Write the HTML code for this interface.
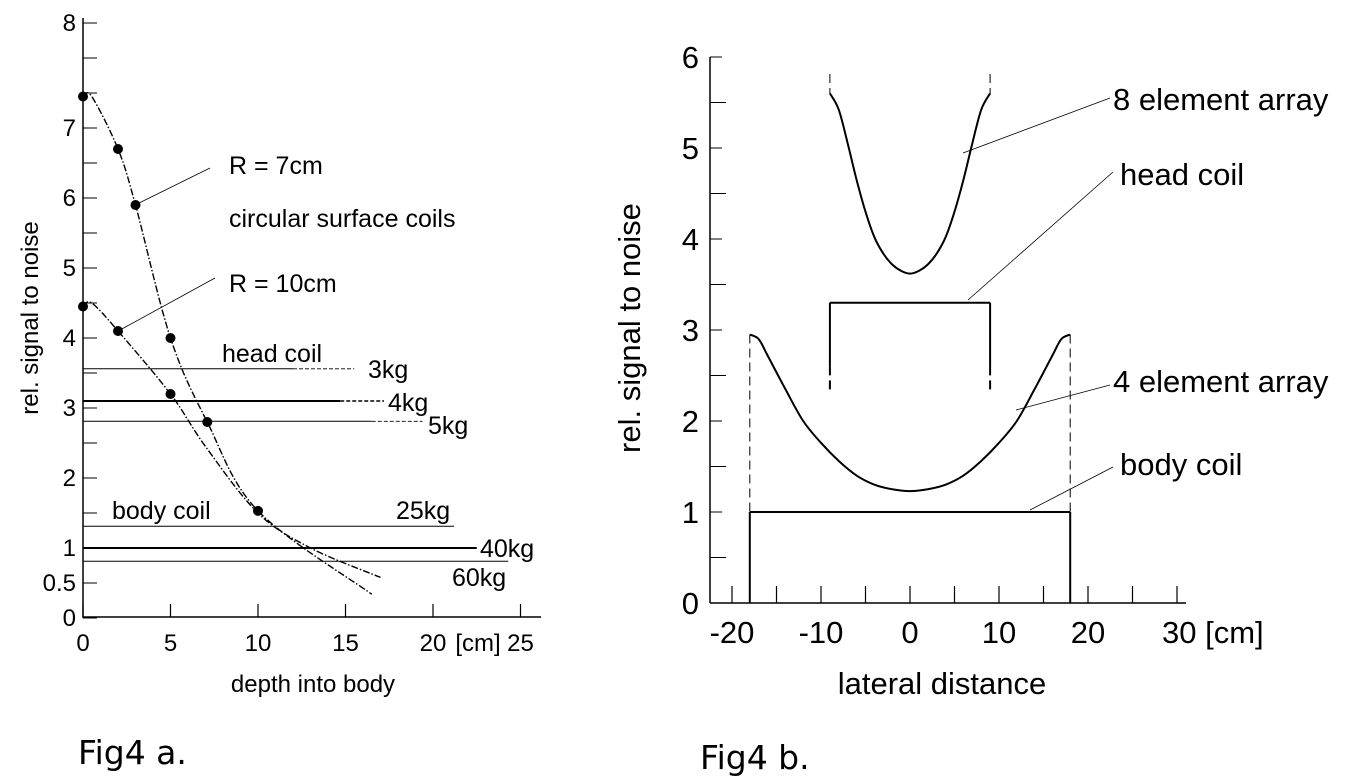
<!DOCTYPE html>
<html><head><meta charset="utf-8"><style>
body{margin:0;background:#fff;}
svg{display:block;font-family:"Liberation Sans",sans-serif;}
</style></head><body>
<svg id="s" width="1363" height="780" viewBox="0 0 1363 780"></svg>
<script>
// ---- Fig 4a data ----
const aXTicks=[0,5,10,15,20,25];
const aYLabels=["0","0.5","1","2","3","4","5","6","7","8"];
const aYLabelVals=[0,0.5,1,2,3,4,5,6,7,8.5];
const r7X=[0,0.5,2,3,5,7.1,10,16.5];
const r7Y=[7.45,7.45,6.7,5.9,4.0,2.8,1.53,0.34];
const r7Dots=[0,2,3,4,5,6];
const r10X=[0,0.5,2,5,7,10,13,17];
const r10Y=[4.45,4.5,4.1,3.2,2.45,1.5,1.0,0.58];
const r10Dots=[0,2,3];
const refLabels=["3kg","4kg","5kg","25kg","40kg","60kg"];
const refVals=[3.56,3.1,2.81,1.31,1.0,0.81];
const refEnds=[15.5,17.2,19.4,21.2,22.5,24.3];
const refSolid=[12,14.7,16.5,21.2,22.5,24.3];
const refThick=[false,true,false,false,true,false];
// ---- Fig 4b data ----
const bXTicks=[-20,-10,0,10,20,30];
const bYTicks=[0,1,2,3,4,5,6];
const e8X=[-9,-8,-7,-6,-5,-4,-3,-2,-1,0,1,2,3,4,5,6,7,8,9];
const e8Y=[5.6,5.42,5.05,4.65,4.3,4.02,3.84,3.72,3.65,3.62,3.65,3.72,3.84,4.02,4.3,4.65,5.05,5.42,5.6];
const e4X=[-18,-17,-16,-14,-12,-10,-8,-6,-4,-2,0,2,4,6,8,10,12,14,16,17,18];
const e4Y=[2.95,2.9,2.72,2.35,2.0,1.76,1.56,1.4,1.3,1.25,1.23,1.25,1.3,1.4,1.56,1.76,2.0,2.35,2.72,2.9,2.95];
const headCoil=[-9,9,3.3];
const bodyCoil=[-18,18,1.0];

const NS="http://www.w3.org/2000/svg",S=document.getElementById('s');
function el(t,a,p){const e=document.createElementNS(NS,t);for(const k in a)e.setAttribute(k,a[k]);(p||S).appendChild(e);return e;}
function txt(x,y,s,size,anchor,extra){const e=el('text',Object.assign({x:x,y:y,'font-size':size,'text-anchor':anchor||'start',fill:'#000'},extra||{}));e.textContent=s;return e;}
function smooth(pts){let d=`M${pts[0][0]},${pts[0][1]}`;for(let i=0;i<pts.length-1;i++){const p0=pts[i-1]||pts[i],p1=pts[i],p2=pts[i+1],p3=pts[i+2]||p2;
d+=` C${p1[0]+(p2[0]-p0[0])/6},${p1[1]+(p2[1]-p0[1])/6} ${p2[0]-(p3[0]-p1[0])/6},${p2[1]-(p3[1]-p1[1])/6} ${p2[0]},${p2[1]}`;}return d;}

// ===== Fig 4a =====
const ax=v=>83+v*17.5, ay=v=>618-v*70;
const ga=el('g',{});
let e=el('line',{x1:83,y1:18,x2:83,y2:618,stroke:'#000','stroke-width':1.5},ga);
e=el('line',{x1:83,y1:617,x2:541,y2:617,stroke:'#000','stroke-width':1.5},ga);
for(let yy=618;yy>=18;yy-=35){el('line',{x1:83,y1:yy,x2:97,y2:yy,stroke:'#000','stroke-width':1},ga);}
aXTicks.forEach(v=>{el('line',{x1:ax(v),y1:617,x2:ax(v),y2:604,stroke:'#000','stroke-width':1.2},ga);
const t=txt(ax(v),651,String(v),24,'middle');ga.appendChild(t);});
aYLabels.forEach((s,i)=>{const t=txt(76,ay(aYLabelVals[i])+8,s,24,'end');ga.appendChild(t);});
txt(478,651,'[cm]',24,'middle');
e=txt(313,692,'depth into body',24,'middle');
e=txt(0,0,'rel. signal to noise',24,'middle',{transform:'translate(38,318) rotate(-90)'});
refLabels.forEach((lab,i)=>{const y=ay(refVals[i]),w=refThick[i]?2:1;
let l=el('line',{x1:83,y1:y,x2:ax(refSolid[i]),y2:y,stroke:'#000','stroke-width':w},ga);
if(refEnds[i]>refSolid[i])el('line',{x1:ax(refSolid[i]),y1:y,x2:ax(refEnds[i]),y2:y,stroke:'#000','stroke-width':w*0.8,'stroke-dasharray':'4,2'},ga);});
[["3kg",368,378],["4kg",388,411],["5kg",428,434],["25kg",396,519],["40kg",480,557],["60kg",452,586]].forEach(a=>{const t=txt(a[1],a[2],a[0],25);});
txt(222,362,'head coil',25);
txt(112,519,'body coil',25);
txt(229,174,'R = 7cm',25);
txt(229,227,'circular surface coils',25);
txt(229,292,'R = 10cm',25);
el('line',{x1:210,y1:168,x2:135,y2:205,stroke:'#000','stroke-width':0.8},ga);
el('line',{x1:215,y1:278,x2:120,y2:330,stroke:'#000','stroke-width':0.8},ga);
[[r7X,r7Y,r7Dots,'r7'],[r10X,r10Y,r10Dots,'r10']].forEach(c=>{
const pts=c[0].map((x,i)=>[ax(x),ay(c[1][i])]);
const p=el('path',{d:smooth(pts),fill:'none',stroke:'#000','stroke-width':1.4,'stroke-dasharray':'7,2,1.5,2'},ga);

c[2].forEach(i=>{const d=el('circle',{cx:pts[i][0],cy:pts[i][1],r:5,fill:'#000'},ga);});});
e=txt(78,764,'Fig4 a.',33);e.setAttribute('font-family','"DejaVu Sans",sans-serif');

// ===== Fig 4b =====
const bx=v=>910+v*8.9, by=v=>603-v*91;
e=el('line',{x1:710,y1:57,x2:710,y2:603,stroke:'#000','stroke-width':1.5});
e=el('line',{x1:710,y1:603,x2:1186,y2:603,stroke:'#000','stroke-width':1.5});
for(let v=0;v<=6;v+=0.5){el('line',{x1:710,y1:by(v),x2:v%1===0?722:726,y2:by(v),stroke:'#000','stroke-width':1});}
for(let v=-20;v<=30;v+=5){el('line',{x1:bx(v),y1:603,x2:bx(v),y2:586,stroke:'#000','stroke-width':1.2});}
bYTicks.forEach(v=>{const t=txt(699,by(v)+11,String(v),31,'end');});
bXTicks.forEach(v=>{const t=txt(bx(v),643,v===30?'30 [cm]':String(v),31,v===30?'start':'middle',v===30?{x:bx(v)-15}:{});});
e=txt(942,694,'lateral distance',31,'middle');
e=txt(0,0,'rel. signal to noise',31,'middle',{transform:'translate(640,328) rotate(-90)'});
[headCoil[0],headCoil[1]].forEach(x=>{el('line',{x1:bx(x),y1:74,x2:bx(x),y2:by(5.6),stroke:'#000','stroke-width':1,'stroke-dasharray':'9,5'});
el('line',{x1:bx(x),y1:by(headCoil[2]),x2:bx(x),y2:by(2.6),stroke:'#000','stroke-width':2});
el('line',{x1:bx(x),y1:by(2.6),x2:bx(x),y2:by(2.3),stroke:'#000','stroke-width':2,'stroke-dasharray':'9,5'});});
[bodyCoil[0],bodyCoil[1]].forEach(x=>{el('line',{x1:bx(x),y1:by(2.95),x2:bx(x),y2:by(bodyCoil[2]),stroke:'#000','stroke-width':1,'stroke-dasharray':'9,5'});
el('line',{x1:bx(x),y1:by(bodyCoil[2]),x2:bx(x),y2:603,stroke:'#000','stroke-width':2});});
e=el('line',{x1:bx(headCoil[0]),y1:by(headCoil[2]),x2:bx(headCoil[1]),y2:by(headCoil[2]),stroke:'#000','stroke-width':2});
e=el('line',{x1:bx(bodyCoil[0]),y1:by(bodyCoil[2]),x2:bx(bodyCoil[1]),y2:by(bodyCoil[2]),stroke:'#000','stroke-width':2});
e=el('path',{d:smooth(e8X.map((x,i)=>[bx(x),by(e8Y[i])])),fill:'none',stroke:'#000','stroke-width':2});
e=el('path',{d:smooth(e4X.map((x,i)=>[bx(x),by(e4Y[i])])),fill:'none',stroke:'#000','stroke-width':2});
[[1110,98,963,153],[1113,172,968,300],[1110,385,1016,410],[1113,467,1030,510]].forEach(a=>el('line',{x1:a[0],y1:a[1],x2:a[2],y2:a[3],stroke:'#000','stroke-width':0.8}));
[['8 element array',1113,110],['head coil',1120,185],['4 element array',1113,392],['body coil',1120,475]].forEach(a=>{const t=txt(a[1],a[2],a[0],31);});
e=txt(700,769,'Fig4 b.',33);e.setAttribute('font-family','"DejaVu Sans",sans-serif');
</script>
</body></html>
